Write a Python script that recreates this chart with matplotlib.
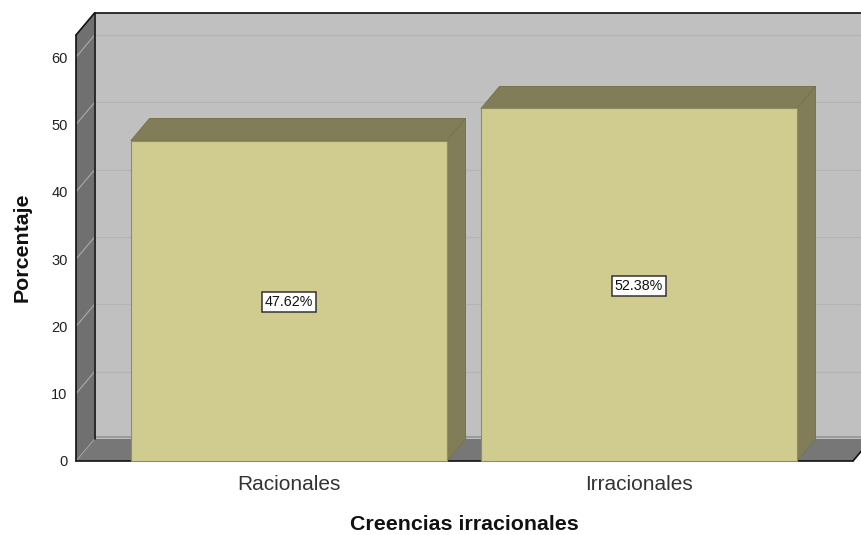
import matplotlib
matplotlib.use("Agg")
import matplotlib.pyplot as plt
from matplotlib.patches import Polygon

plt.rcParams['font.family'] = ['Liberation Sans', 'DejaVu Sans']

categories = ["Racionales", "Irracionales"]
values = [47.62, 52.38]
labels = ["47.62%", "52.38%"]
yticks = [0, 10, 20, 30, 40, 50, 60]
xlabel = "Creencias irracionales"
ylabel = "Porcentaje"

W, H = 861, 535
L, R, B, T = 76, 853, 461, 35
PX_X = 350.0
PX_Y = 6.73
fig = plt.figure(figsize=(W / 100, H / 100), dpi=100)
ax = fig.add_axes([L / W, 1 - B / H, (R - L) / W, (B - T) / H])
x0 = -(289 - L) / PX_X
ax.set_xlim(x0, x0 + (R - L) / PX_X)
ymax = (B - T) / PX_Y
ax.set_ylim(0, ymax)
xmin, xmax = ax.get_xlim()
DX = 18.5 / PX_X
DY = 22.0 / PX_Y
BW = 316 / PX_X

def poly(pts, fc, ec='none', lw=0, z=1):
    ax.add_patch(Polygon(pts, closed=True, facecolor=fc, edgecolor=ec, linewidth=lw,
                         zorder=z, clip_on=False, joinstyle='round'))

def line(xs, ys, c, lw, z=2):
    ax.plot(xs, ys, color=c, lw=lw, zorder=z, clip_on=False, solid_capstyle='round')

# back wall, left wall, floor
poly([(xmin + DX, DY), (xmax + DX, DY), (xmax + DX, ymax + DY), (xmin + DX, ymax + DY)], '#c0c0c0')
poly([(xmin, 0), (xmin + DX, DY), (xmin + DX, ymax + DY), (xmin, ymax)], '#707070')
poly([(xmin, 0), (xmax, 0), (xmax + DX, DY), (xmin + DX, DY)], '#777777')
line([xmin + DX, xmax + DX], [DY + 0.25, DY + 0.25], '#9a9a9a', 1.4)

for t in yticks[1:]:
    line([xmin + DX, xmax + DX], [t + DY, t + DY], '#b4b4b4', 0.9)
    line([xmin, xmin + DX], [t, t + DY], '#a4a4a4', 0.9)
line([xmin, xmin + DX], [0, DY], '#a0a0a0', 0.7)

# frame lines
line([xmin, xmin], [0, ymax], '#111111', 1.2, 3)
line([xmin + DX, xmin + DX], [DY, ymax + DY], '#111111', 1.2, 3)
line([xmin, xmin + DX], [ymax, ymax + DY], '#111111', 1.2, 3)
line([xmin + DX, xmax + DX], [ymax + DY, ymax + DY], '#111111', 1.2, 3)
line([xmin, xmax], [0, 0], '#111111', 1.2, 3)
line([xmax, xmax + DX], [0, DY], '#111111', 1.2, 3)

# bars
FRONT, SHADE, EDGE = '#d0cb8e', '#807d58', '#77744f'
for i, v in enumerate(values):
    l, r = i - BW / 2, i + BW / 2
    poly([(l, v), (r, v), (r + DX, v + DY), (l + DX, v + DY)], SHADE, EDGE, 0.7, 4)
    poly([(r, 0), (r + DX, DY), (r + DX, v + DY), (r, v)], SHADE, EDGE, 0.7, 4)
    poly([(l, 0), (r, 0), (r, v), (l, v)], FRONT, '#8f8c66', 0.8, 5)
    ax.annotate(labels[i], (i, v / 2), xytext=(0, -1), textcoords='offset points',
                ha='center', va='center', fontsize=10.3, color='#111111', zorder=6,
                bbox=dict(boxstyle='square,pad=0.2', fc='white', ec='#333333', lw=1.1))

ax.set_xticks(range(len(categories)), categories)
ax.set_yticks(yticks)
ax.tick_params(axis='both', length=0)
ax.tick_params(axis='y', labelsize=10.5, pad=6, labelcolor='#222222')
ax.tick_params(axis='x', labelsize=15, pad=10, labelcolor='#333333')
for s in ax.spines.values():
    s.set_visible(False)
ax.patch.set_visible(False)

fig.text(464 / W, 1 - 525 / H, xlabel, ha='center', va='center', fontsize=15.4, fontweight='bold', color='#111111')
fig.text(22 / W, 1 - 247 / H, ylabel, ha='center', va='center', rotation=90, fontsize=15.4, fontweight='bold', color='#111111')

fig.savefig("out.png", dpi=100)
